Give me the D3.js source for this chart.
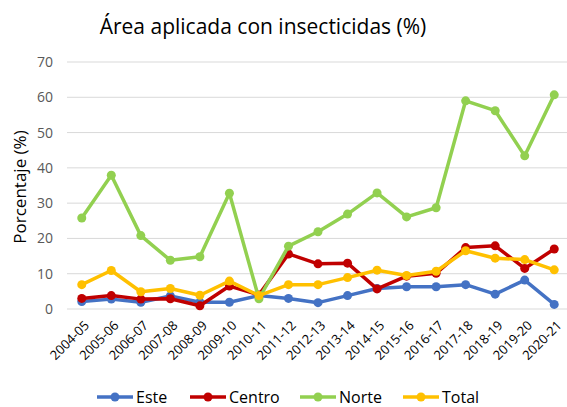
<html>
<head>
<meta charset="utf-8">
<script src="https://d3js.org/d3.v7.min.js"></script>
<style>
  body { margin: 0; background: #fff; }
  text { font-family: "Open Sans", "Liberation Sans", sans-serif; }
</style>
</head>
<body>
<div id="chart"></div>
<script>

var years = ["2004-05","2005-06","2006-07","2007-08","2008-09","2009-10","2010-11","2011-12","2012-13","2013-14","2014-15","2015-16","2016-17","2017-18","2018-19","2019-20","2020-21"];
var este   = [2.1, 2.8, 1.9, 3.7, 1.9, 1.9, 3.8, 3.0, 1.8, 3.8, 5.8, 6.3, 6.3, 6.9, 4.2, 8.2, 1.3];
var centro = [3.0, 3.8, 2.8, 2.9, 0.9, 6.5, 4.0, 15.6, 12.8, 13.0, 5.7, 9.3, 10.1, 17.4, 17.9, 11.5, 17.0];
var norte  = [25.8, 37.9, 20.8, 13.8, 14.8, 32.8, 2.9, 17.8, 21.9, 26.9, 32.9, 26.1, 28.7, 59.0, 56.2, 43.4, 60.7];
var total  = [6.9, 10.9, 4.9, 5.8, 3.9, 7.9, 3.8, 6.9, 6.9, 8.9, 11.0, 9.5, 10.7, 16.5, 14.4, 14.0, 11.1];
var yTicks = [0, 10, 20, 30, 40, 50, 60, 70];

var seriesNames = ["Este", "Centro", "Norte", "Total"];
var seriesColors = ["#4472C4", "#C00000", "#92D050", "#FFC000"];
var seriesValues = [este, centro, norte, total];

var width = 567, height = 407;
var margin = {top: 62, right: -2, bottom: 98, left: 67};

var svg = d3.select("#chart").append("svg")
    .attr("width", width)
    .attr("height", height);

var x = d3.scaleBand()
    .domain(years)
    .range([margin.left, width - margin.right]);

var y = d3.scaleLinear()
    .domain([0, 70])
    .range([height - margin.bottom, margin.top]);

// title
svg.append("text")
    .attr("x", 263)
    .attr("y", 34)
    .attr("text-anchor", "middle")
    .style("font-size", "21px")
    .style("fill", "#000")
    .text("Área aplicada con insecticidas (%)");

// gridlines
svg.append("g")
  .selectAll("line")
  .data(yTicks)
  .enter().append("line")
    .attr("x1", margin.left)
    .attr("x2", width - margin.right)
    .attr("y1", function(d) { return y(d); })
    .attr("y2", function(d) { return y(d); })
    .style("stroke", "#d9d9d9")
    .style("stroke-width", 1);

// y axis labels
var yAxis = svg.append("g")
    .attr("transform", "translate(" + (margin.left - 2) + ",0)")
    .call(d3.axisLeft(y).tickValues(yTicks).tickSize(0).tickPadding(12));
yAxis.select(".domain").remove();
yAxis.selectAll("text")
    .style("font-size", "14px")
    .style("fill", "#595959")
    .style("font-family", "'Open Sans', sans-serif");

svg.append("text")
    .attr("transform", "translate(26,187) rotate(-90)")
    .attr("text-anchor", "middle")
    .style("font-size", "17px")
    .style("fill", "#000")
    .text("Porcentaje  (%)");

// x axis labels
var xAxis = svg.append("g")
    .attr("transform", "translate(0," + y(0) + ")")
    .call(d3.axisBottom(x).tickSize(0).tickPadding(0));
xAxis.select(".domain").remove();
xAxis.selectAll("text")
    .attr("text-anchor", "end")
    .attr("dy", "0.35em")
    .attr("y", 0)
    .attr("transform", "translate(5,14) rotate(-45)")
    .style("font-size", "13px")
    .style("fill", "#000")
    .style("font-family", "'Open Sans', sans-serif");

// lines
var line = d3.line()
    .x(function(d, i) { return x(years[i]) + x.bandwidth() / 2; })
    .y(function(d) { return y(d); });

seriesValues.forEach(function(vals, k) {
  var g = svg.append("g");
  g.append("path")
      .attr("d", line(vals))
      .attr("fill", "none")
      .attr("stroke", seriesColors[k])
      .attr("stroke-width", 3.5)
      .attr("stroke-linejoin", "round");
  g.selectAll("circle")
    .data(vals)
    .enter().append("circle")
      .attr("cx", function(d, i) { return x(years[i]) + x.bandwidth() / 2; })
      .attr("cy", function(d) { return y(d); })
      .attr("r", 4.5)
      .attr("fill", seriesColors[k]);
});

// legend
var legendX = [97, 190, 300, 403];
var legend = svg.append("g");
seriesNames.forEach(function(name, k) {
  var lg = legend.append("g").attr("transform", "translate(" + legendX[k] + ",397)");
  lg.append("line")
      .attr("x1", 0).attr("x2", 36)
      .attr("y1", 0).attr("y2", 0)
      .attr("stroke", seriesColors[k])
      .attr("stroke-width", 3.5);
  lg.append("circle")
      .attr("cx", 18).attr("cy", 0).attr("r", 4.5)
      .attr("fill", seriesColors[k]);
  lg.append("text")
      .attr("x", 39)
      .attr("y", 0)
      .attr("dy", "0.35em")
      .style("font-size", "16px")
      .style("fill", "#000")
      .text(name);
});

</script>
</body>
</html>
